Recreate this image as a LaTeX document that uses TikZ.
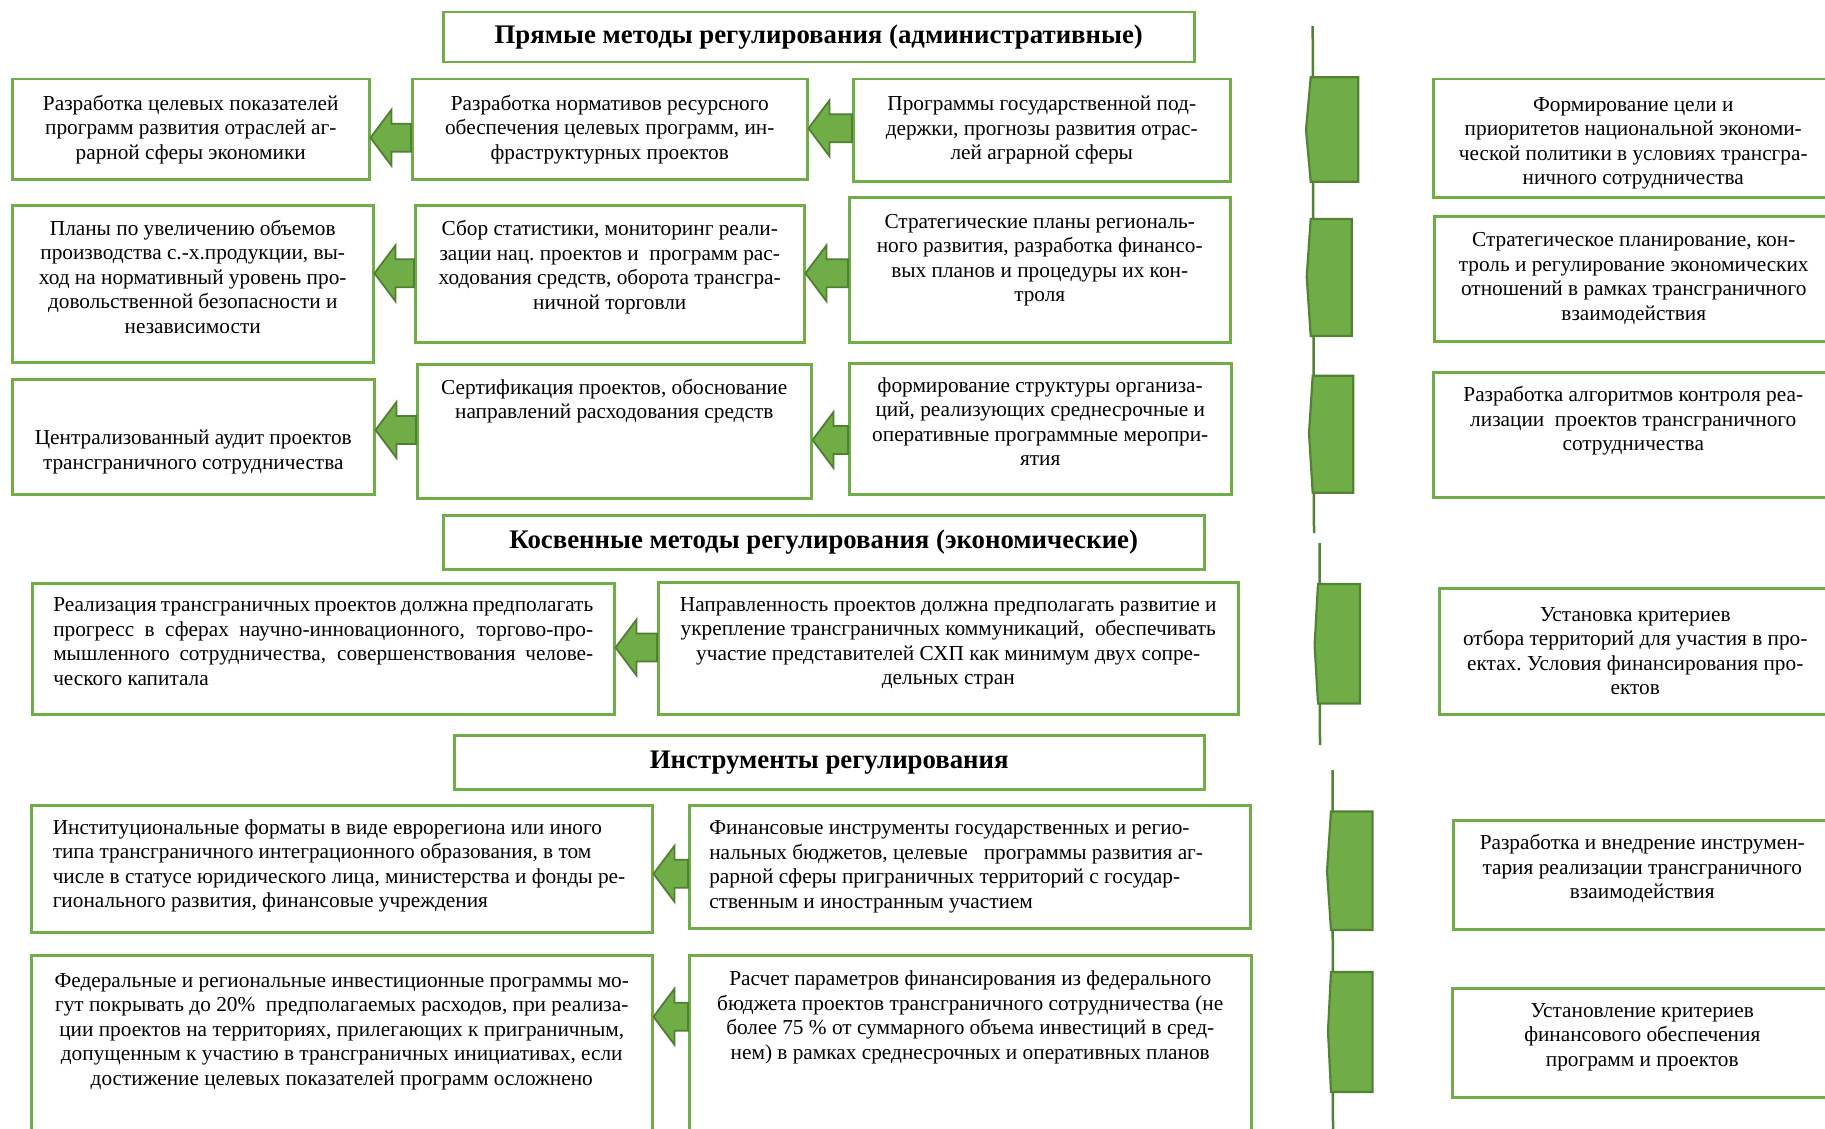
\documentclass[tikz,border=0pt]{standalone}
\usepackage{fontspec}
\setmainfont{Liberation Serif}
\usetikzlibrary{calc}
\definecolor{boxgreen}{RGB}{112,173,71}
\definecolor{edgegreen}{RGB}{80,126,50}
\definecolor{tabgreen}{RGB}{84,130,53}
% extra room under / over the text of a box
\newcommand{\padbelow}[1]{\rule[-#1]{0pt}{#1}}
\newcommand{\padabove}[1]{\rule{0pt}{#1}}
% one justified line
\newcommand{\fullline}[1]{\makebox[540pt][s]{#1}}
% block arrow from #1 (right box) to #2 (left box), axis at height #3
\newcommand{\blockarrow}[3]{%
  \filldraw[pointer] (#2.east |- 0,#3) -- ++(21,-28) -- ++(0,14)
    -- (#1.west |- 0,#3-14) -- (#1.west |- 0,#3+14)
    -- ($(#2.east |- 0,#3)+(21,14)$) -- ++(0,14) -- cycle;}

\begin{document}
\begin{tikzpicture}[x=1pt,y=-1pt,
  box/.style={draw=boxgreen, line width=2.5pt, anchor=north west, align=center,
    inner xsep=3pt, font=\fontsize{21.3}{24.5}\selectfont,
    execute at begin node={\spaceskip=\fontdimen2\font\xspaceskip=\fontdimen2\font}},
  heading/.style={draw=boxgreen, line width=2.5pt, anchor=north west,
    font=\fontsize{26.8}{30}\selectfont\bfseries},
  pointer/.style={fill=boxgreen, draw=edgegreen, line width=1.8pt, line join=miter},
  tab/.style={fill=boxgreen, draw=tabgreen, line width=2.2pt, line join=miter},
  spine/.style={draw=tabgreen, line width=2.5pt}]
\path[use as bounding box, fill=white] (0,0) rectangle (1825,1129);

% headings
\node[heading, minimum width=751pt, minimum height=50pt] (T1) at (442,11)
  {Прямые методы регулирования (административные)};
\node[heading, minimum width=761pt, minimum height=54pt] (T2) at (442,514)
  {Косвенные методы регулирования (экономические)};
\node[heading, minimum width=750pt, minimum height=54pt] (T3) at (453,734)
  {Инструменты регулирования};

% direct methods
\node[box, minimum width=357pt, minimum height=100pt, text width=349pt] (A1) at (11,78)
  {Разработка целевых показателей\\ программ развития отраслей аг-\\ рарной сферы экономики};
\node[box, minimum width=395pt, minimum height=100pt, text width=387pt] (B1) at (411,78)
  {Разработка нормативов ресурсного\\ обеспечения целевых программ, ин-\\ фраструктурных проектов};
\node[box, minimum width=377pt, minimum height=102pt, text width=369pt] (C1) at (852,78)
  {Программы государственной под-\\ держки, прогнозы развития отрас-\\ лей аграрной сферы};
\node[box, minimum width=361pt, minimum height=157pt, text width=353pt] (A2) at (11,204)
  {Планы по увеличению объемов\\ производства с.-х.продукции, вы-\\ ход на нормативный уровень про-\\ довольственной безопасности и\\ независимости\padbelow{14pt}};
\node[box, minimum width=389pt, minimum height=137pt, text width=381pt] (B2) at (414,204)
  {Сбор статистики, мониторинг реали-\\ зации нац. проектов и\ \ программ рас-\\ ходования средств, оборота трансгра-\\ ничной торговли\padbelow{18pt}};
\node[box, minimum width=381pt, minimum height=145pt, text width=373pt] (C2) at (848,196)
  {Стратегические планы региональ-\\ ного развития, разработка финансо-\\ вых планов и процедуры их кон-\\ троля\padbelow{24pt}};
\node[box, minimum width=362pt, minimum height=115pt, text width=354pt] (A3) at (11,378)
  {\padabove{45pt}Централизованный аудит проектов\\ трансграничного сотрудничества};
\node[box, minimum width=394pt, minimum height=134pt, text width=386pt] (B3) at (416,363)
  {Сертификация проектов, обоснование\\ направлений расходования средств\padbelow{65pt}};
\node[box, minimum width=382pt, minimum height=131pt, text width=374pt] (C3) at (848,362)
  {формирование структуры организа-\\ ций, реализующих среднесрочные и\\ оперативные программные меропри-\\ ятия\padbelow{14pt}};

% indirect methods
\node[box, align=left, inner xsep=0pt, minimum width=582pt, minimum height=131pt, text width=540pt] (D1) at (31,582)
  {\spaceskip=0pt\xspaceskip=0pt\fullline{Реализация трансграничных проектов должна предполагать}\\ \fullline{прогресс в сферах научно-инновационного, торгово-про-}\\ \fullline{мышленного сотрудничества, совершенствования челове-}\\ ческого капитала\padbelow{14pt}};
\node[box, minimum width=580pt, minimum height=132pt, text width=572pt] (D2) at (657,581)
  {Направленность проектов должна предполагать развитие и\\ укрепление трансграничных коммуникаций,\ \ обеспечивать\\ участие представителей СХП как минимум двух сопре-\\ дельных стран\padbelow{14pt}};

% instruments
\node[box, align=left, inner xsep=0pt, minimum width=621pt, minimum height=127pt, text width=578pt] (E1) at (30,804)
  {Институциональные форматы в виде еврорегиона или иного\\ типа трансграничного интеграционного образования, в том\\ \mbox{числе в статусе юридического лица, министерства и фонды ре-}\\ гионального развития, финансовые учреждения\padbelow{10pt}};
\node[box, align=left, inner xsep=0pt, minimum width=561pt, minimum height=123pt, text width=521pt] (E2) at (688,804)
  {Финансовые инструменты государственных и регио-\\ нальных бюджетов, целевые\ \ \ программы развития аг-\\ рарной сферы приграничных территорий с государ-\\ ственным и иностранным участием};
\node[box, minimum width=621pt, minimum height=206pt, text width=613pt] (F1) at (30,954)
  {Федеральные и региональные инвестиционные программы мо-\\ гут покрывать до 20\%\ \ предполагаемых расходов, при реализа-\\ ции проектов на территориях, прилегающих к приграничным,\\ допущенным к участию в трансграничных инициативах, если\\ достижение целевых показателей программ осложнено\padbelow{58pt}};
\node[box, minimum width=562pt, minimum height=206pt, text width=554pt] (F2) at (688,954)
  {Расчет параметров финансирования из федерального\\ бюджета проектов трансграничного сотрудничества (не\\ более 75 \% от суммарного объема инвестиций в сред-\\ нем) в рамках среднесрочных и оперативных планов\padbelow{86pt}};

% goals column
\node[box, minimum width=400pt, minimum height=118pt, text width=392pt] (G1) at (1432,78)
  {\padabove{24pt}Формирование цели и\\ приоритетов национальной экономи-\\ ческой политики в условиях трансгра-\\ ничного сотрудничества};
\node[box, minimum width=399pt, minimum height=125pt, text width=391pt] (G2) at (1433,215)
  {Стратегическое планирование, кон-\\ троль и регулирование экономических\\ отношений в рамках трансграничного\\ взаимодействия};
\node[box, minimum width=400pt, minimum height=125pt, text width=392pt] (G3) at (1432,371)
  {Разработка алгоритмов контроля реа-\\ лизации\ \ проектов трансграничного\\ сотрудничества\padbelow{32pt}};
\node[box, minimum width=392pt, minimum height=126pt, text width=384pt] (G4) at (1438,587)
  {Установка критериев\\ отбора территорий для участия в про-\\ ектах. Условия финансирования про-\\ ектов};
\node[box, minimum width=378pt, minimum height=109pt, text width=370pt] (G5) at (1452,819)
  {Разработка и внедрение инструмен-\\ тария реализации трансграничного\\ взаимодействия\padbelow{16pt}};
\node[box, minimum width=380pt, minimum height=109pt, text width=372pt] (G6) at (1451,987)
  {Установление критериев\\ финансового обеспечения\\ программ и проектов\padbelow{16pt}};

% arrows between the boxes
\blockarrow{B1}{A1}{137.7}
\blockarrow{C1}{B1}{128.3}
\blockarrow{B2}{A2}{273.3}
\blockarrow{C2}{B2}{273.3}
\blockarrow{B3}{A3}{430}
\blockarrow{C3}{B3}{440}
\blockarrow{D2}{D1}{647.5}
\blockarrow{E2}{E1}{873.8}
\blockarrow{F2}{F1}{1016.7}

% brackets on the right
\draw[spine] (1312.7,26) -- (1314,533);
\draw[spine] (1319.5,543) -- (1320,745);
\draw[spine] (1332.5,770) -- (1333,1135);
\filldraw[tab] (1310.7,77.3) -- (1358.3,77.3) -- (1358.3,181.7) -- (1310.7,181.7) -- (1306,130) -- cycle;
\filldraw[tab] (1310.7,219) -- (1351.7,219) -- (1351.7,336) -- (1310.7,336) -- (1306.7,276.7) -- cycle;
\filldraw[tab] (1312.7,375.7) -- (1353.3,375.7) -- (1353.3,492.7) -- (1312.7,492.7) -- (1309,433.3) -- cycle;
\filldraw[tab] (1318,584) -- (1360,584) -- (1360,703.5) -- (1318,703.5) -- (1314.6,645) -- cycle;
\filldraw[tab] (1331,811.5) -- (1372.5,811.5) -- (1372.5,930) -- (1331,930) -- (1327,871) -- cycle;
\filldraw[tab] (1331,972) -- (1372.5,972) -- (1372.5,1092) -- (1331,1092) -- (1328,1031) -- cycle;
\end{tikzpicture}
\end{document}
